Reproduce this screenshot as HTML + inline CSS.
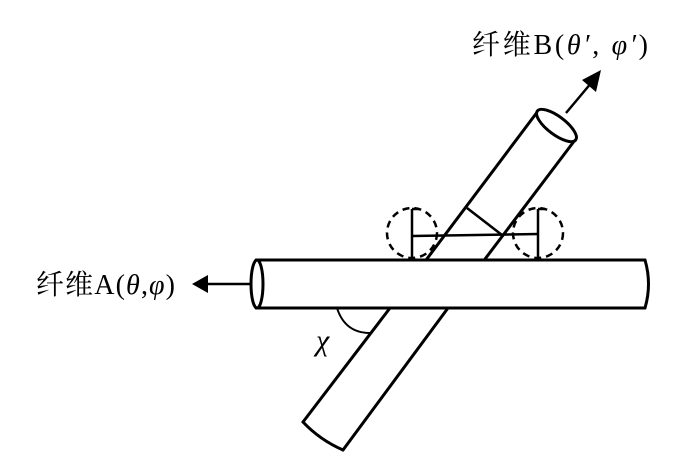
<!DOCTYPE html>
<html><head><meta charset="utf-8"><style>
html,body{margin:0;padding:0;background:#fff;}
svg{display:block}
text{font-family:"Liberation Serif","Noto Serif CJK SC",serif;fill:#000}
</style></head><body>
<svg width="700" height="468" viewBox="0 0 700 468" xmlns="http://www.w3.org/2000/svg">
<g stroke="#000" stroke-width="3" fill="none" stroke-linecap="round">
<!-- diagonal cylinder -->
<line x1="390" y1="308" x2="538" y2="111"/>
<line x1="448" y1="308" x2="575" y2="140"/>
<line x1="303" y1="422" x2="390" y2="308"/>
<line x1="343" y1="450" x2="448" y2="308"/>
<path d="M303 422 Q320 440 343 450"/>
<ellipse cx="556.5" cy="125.5" rx="24" ry="9" transform="rotate(37 556.5 125.5)" fill="#fff"/>
<!-- horizontal cylinder -->
<rect x="256" y="260" width="392" height="48" fill="#fff" stroke="none"/>
<line x1="256" y1="260" x2="645" y2="260"/>
<line x1="256" y1="308" x2="645" y2="308"/>
<path d="M645 260 Q652 284 645 308"/>
<ellipse cx="257" cy="284" rx="6" ry="24"/>
<!-- angle arc -->
<path d="M337 308 Q345 333 370 333" stroke-width="2"/>
</g>
<g stroke="#000" fill="none">
<circle cx="412" cy="233" r="25" stroke-width="2.5" stroke-dasharray="7 5"/>
<circle cx="538" cy="233" r="25" stroke-width="2.5" stroke-dasharray="7 5"/>
<line x1="412" y1="209" x2="412" y2="258" stroke-width="2.5"/>
<line x1="412" y1="209" x2="419" y2="209" stroke-width="2.5"/>
<line x1="538" y1="209" x2="538" y2="258" stroke-width="2.5"/>
<line x1="538" y1="209" x2="545" y2="209" stroke-width="2.5"/>
<line x1="412" y1="236" x2="538" y2="234" stroke-width="2.5"/>
<line x1="467" y1="208" x2="502" y2="235" stroke-width="2.5"/>
<!-- arrows -->
<line x1="566" y1="113" x2="592" y2="82" stroke-width="2.5"/>
<line x1="251" y1="284" x2="205" y2="284" stroke-width="2.5"/>
</g>
<polygon points="601,70 582,80 596,92" fill="#000"/>
<polygon points="192,284 208,275 208,293" fill="#000"/>
<text x="472" y="54" font-size="28" textLength="176" lengthAdjust="spacing">纤维B(<tspan font-style="italic">θ′</tspan>, <tspan font-style="italic">φ′</tspan>)</text>
<text x="36" y="294" font-size="28" textLength="139" lengthAdjust="spacing">纤维A(<tspan font-style="italic">θ</tspan>,<tspan font-style="italic">φ</tspan>)</text>
<text x="316" y="350" font-size="30" font-family="Liberation Serif,serif" font-style="italic">χ</text>
</svg>
</body></html>
